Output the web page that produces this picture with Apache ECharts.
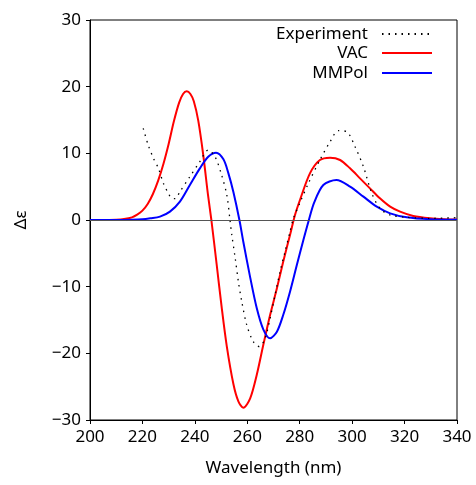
<!DOCTYPE html>
<html>
<head>
<meta charset="utf-8">
<script src="https://cdn.jsdelivr.net/npm/echarts@6/dist/echarts.min.js"></script>
<style>html,body{margin:0;padding:0;background:#fff;}#c{width:476px;height:485px;}</style>
</head>
<body>
<div id="c"></div>
<script>
// Wavelength (nm) and Δε values
const expX = [220.3,222.2,224.2,226.1,228,229.9,231.2,232.5,234.3,238.1,241.9,245.1,247.7,250.2,252.2,253.4,254.1,255.4,256.6,257.9,259.8,262.3,264.6,266.8,268.7,270.6,272.5,274.4,276.3,277.6,280,283.3,287.7,291.6,294.7,297.9,301.1,304.3,307.5,310.6,314.5,320.8,329.7,340];
const expY = [13.75,11.25,9.25,7.75,5.5,4,3.25,3.2,4.25,6.5,8.75,10.5,9.5,6.75,3.75,0,-2.25,-5.75,-9.25,-12.25,-15.75,-18.25,-19,-17.75,-14.75,-11.25,-7.75,-4.75,-1.75,0.25,2.5,5.5,9,11.75,13.4,13.25,11,8,4,1.75,0.75,0.4,0.25,0.35];

const vacX = [200,205,210,213,216,218,220,222,224,226,228,230,232,234,235.5,236.9,238.3,239.6,241.3,243.2,245,246.3,248.3,250.2,252.2,254.7,256.6,258.5,261.1,263.6,266.1,268.7,271.3,273.7,276.3,278.2,280.1,283.9,287.7,291.6,295.4,299.2,303,306.8,310.6,314.5,318.3,323.3,329.7,335,340];
const vacY = [0,0,0.05,0.15,0.4,0.8,1.4,2.4,3.9,5.9,8.4,11.4,14.8,17.6,18.9,19.3,18.9,17.8,14.9,9.75,3.8,0,-6.6,-13,-19,-24.6,-27.2,-28.15,-26.75,-23.25,-18.75,-14.25,-10.25,-6.25,-2.25,0.75,3,7,9,9.35,9,7.75,6.25,4.75,3.25,2,1.25,0.6,0.25,0.12,0.08];

const mmpX = [200,210,216,220,223,226.7,230.5,234.3,238.1,241.9,245.1,248.1,250.9,252.8,254.7,257,258.5,261.1,263.6,266.1,268.7,271.3,273.7,276.3,278.9,281.4,283.5,285.5,289,294,299.2,304.3,309.4,314.5,320.8,329.7,340];
const mmpY = [0,0,0.03,0.1,0.25,0.5,1.25,2.75,5.25,7.75,9.5,10.1,9.1,7,4.2,0,-3.3,-8.6,-13.2,-16.4,-17.75,-16.75,-14.25,-10.75,-6.75,-3,0,2.6,5.25,6,5,3.5,2,1,0.4,0.1,0.03];

const seriesNames = ['Experiment', 'VAC', 'MMPol'];
const xTicks = {min: 200, max: 340, interval: 20};
const yTicks = {min: -30, max: 30, interval: 10};

const zip = (xs, ys) => xs.map((x, i) => [x, ys[i]]);
const FONT = 'Noto Sans';
const chart = echarts.init(document.getElementById('c'), null, {renderer: 'canvas'});
const legendBase = (name, top) => ({
  data: [name], right: 43, top: top, orient: 'vertical', align: 'right',
  itemWidth: 50, itemHeight: 14, padding: 0, selectedMode: false,
  itemStyle: {opacity: 0, borderWidth: 0},
  textStyle: {fontFamily: FONT, fontSize: 17, color: '#000', lineHeight: 20, padding: [0, 9, 0, 0]}
});
chart.setOption({
  animation: false,
  backgroundColor: '#fff',
  grid: {left: 90, right: 19, top: 20, bottom: 65, show: true, borderColor: '#000', borderWidth: 1, backgroundColor: 'transparent'},
  legend: [legendBase(seriesNames[0], 24), legendBase(seriesNames[1], 43), legendBase(seriesNames[2], 63)],
  xAxis: {
    type: 'value', min: xTicks.min, max: xTicks.max, interval: xTicks.interval,
    name: 'Wavelength (nm)', nameLocation: 'middle', nameGap: 40,
    nameTextStyle: {fontFamily: FONT, fontSize: 17, color: '#000'},
    axisLine: {show: true, onZero: false, lineStyle: {color: '#000', width: 1}},
    axisTick: {show: true, inside: false, length: 4, lineStyle: {color: '#000'}},
    axisLabel: {fontFamily: FONT, fontSize: 17, color: '#000', margin: 9},
    splitLine: {show: false}
  },
  yAxis: {
    type: 'value', min: yTicks.min, max: yTicks.max, interval: yTicks.interval,
    name: 'Δε', nameLocation: 'middle', nameGap: 60, nameRotate: 90,
    nameTextStyle: {fontFamily: FONT, fontSize: 17, color: '#000'},
    axisLine: {show: true, onZero: false, lineStyle: {color: '#000', width: 1}},
    axisTick: {show: true, inside: false, length: 4, lineStyle: {color: '#000'}},
    axisLabel: {fontFamily: FONT, fontSize: 17, color: '#000', margin: 9,
      formatter: v => String(v).replace('-', '\u2212')},
    splitLine: {show: false}
  },
  series: [
    {name: seriesNames[0], type: 'line', data: zip(expX, expY), smooth: 0.3,
     symbol: 'none', showSymbol: false, color: '#000',
     lineStyle: {color: '#000', width: 1.3, type: [1.5, 5]}, z: 4,
     markLine: {silent: true, symbol: 'none', label: {show: false},
       lineStyle: {color: '#555', width: 1, type: 'solid'}, data: [{yAxis: 0}]}},
    {name: seriesNames[1], type: 'line', data: zip(vacX, vacY), smooth: 0.3,
     symbol: 'none', showSymbol: false, color: '#ff0000',
     lineStyle: {color: '#ff0000', width: 2}, z: 3},
    {name: seriesNames[2], type: 'line', data: zip(mmpX, mmpY), smooth: 0.3,
     symbol: 'none', showSymbol: false, color: '#0000ff',
     lineStyle: {color: '#0000ff', width: 2}, z: 3}
  ]
});
</script>
</body>
</html>
